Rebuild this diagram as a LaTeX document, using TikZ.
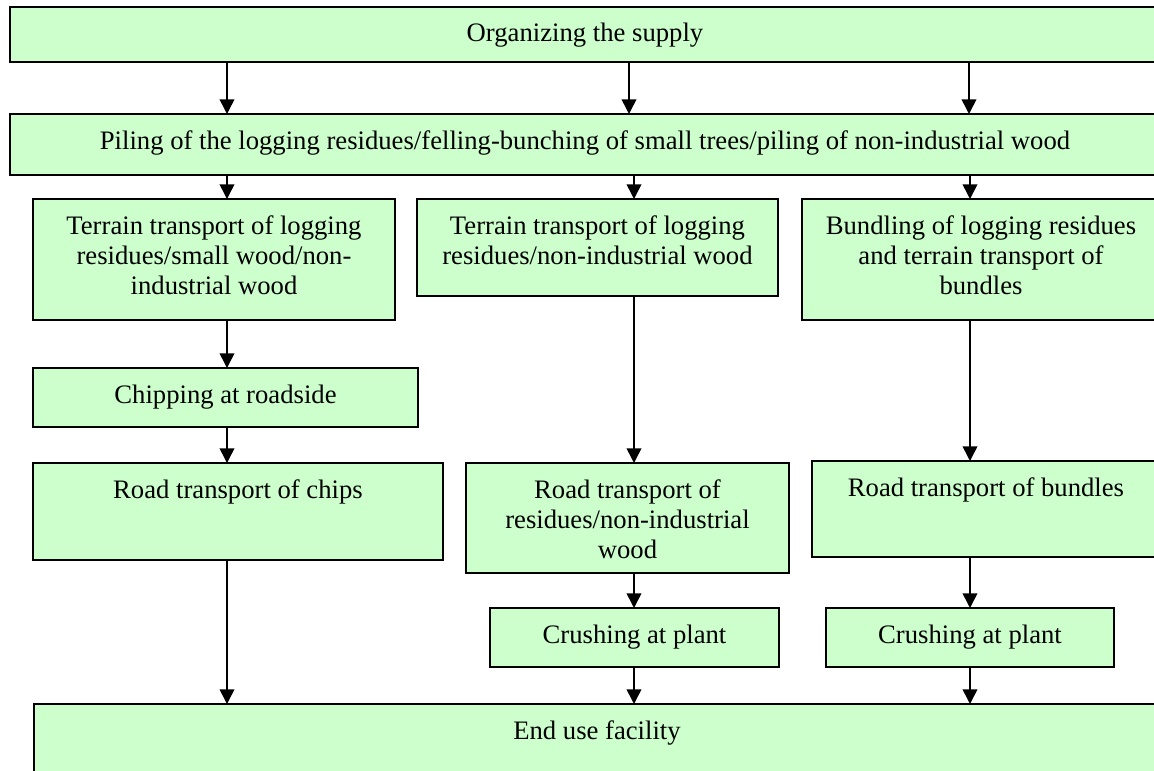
\documentclass[tikz,border=0pt]{standalone}
\usepackage{fontspec}
\setmainfont{Liberation Serif}
\usetikzlibrary{arrows.meta}
\definecolor{boxgreen}{HTML}{CCFFCC}
\newlength\pxu
\setlength\pxu{0.75pt}
\newcommand\flowtext[3]{% width, height, text
  \parbox[c][#2\pxu][t]{#1\pxu}{\centering\rule{0pt}{35\pxu}#3\par}%
}
\tikzset{%
  >={Triangle[length=11pt,width=11pt]},
  flow/.style={draw,fill=boxgreen,line width=1.2pt,inner sep=0pt,
    outer sep=0pt,anchor=north west,font=\fontsize{20}{22.5}\selectfont},%
  link/.style={->,line width=1.2pt}%
}

\begin{document}
\begin{tikzpicture}[x=0.75pt,y=-0.75pt]
\useasboundingbox (0,0) rectangle (1154,771);

% columns of the arrows
\coordinate (ca) at (227,0);
\coordinate (cb) at (634,0);
\coordinate (cc) at (970,0);
\coordinate (cbtop) at (629,0);
\coordinate (cctop) at (969,0);

\node[flow] (supply) at (10,7) {\flowtext{1150}{55}{Organizing the supply}};
\node[flow] (piling) at (10,114) {\flowtext{1150}{61}{Piling of the logging residues/felling-bunching of small trees/piling of non-industrial wood}};

\node[flow] (terrA) at (33,199) {\flowtext{362}{121}{Terrain transport of logging\\residues/small wood/non-\\industrial wood}};
\node[flow] (terrB) at (417,199) {\flowtext{361}{97}{Terrain transport of logging\\residues/non-industrial wood}};
\node[flow] (bundC) at (802,199) {\flowtext{358}{121}{Bundling of logging residues\\and terrain transport of\\bundles}};

\node[flow] (chip) at (33,368) {\flowtext{385}{59}{Chipping at roadside}};
\node[flow] (roadA) at (33,463) {\flowtext{410}{97}{Road transport of chips}};
\node[flow] (roadB) at (466,463) {\flowtext{323}{110}{Road transport of\\residues/non-industrial\\wood}};
\node[flow] (roadC) at (812,461) {\flowtext{348}{96}{Road transport of bundles}};

\node[flow] (crushB) at (490,608) {\flowtext{289}{59}{Crushing at plant}};
\node[flow] (crushC) at (826,608) {\flowtext{288}{59}{Crushing at plant}};

\node[flow] (enduse) at (34,704) {\flowtext{1126}{90}{End use facility}};

\foreach \c in {ca,cbtop,cctop}
  \draw[link] (supply.south -| \c) -- (piling.north -| \c);
\draw[link] (piling.south -| ca) -- (terrA.north -| ca);
\draw[link] (piling.south -| cb) -- (terrB.north -| cb);
\draw[link] (piling.south -| cc) -- (bundC.north -| cc);

\draw[link] (terrA.south -| ca) -- (chip.north -| ca);
\draw[link] (chip.south -| ca) -- (roadA.north -| ca);
\draw[link] (roadA.south -| ca) -- (enduse.north -| ca); %chips

\draw[link] (terrB.south -| cb) -- (roadB.north -| cb);
\draw[link] (roadB.south -| cb) -- (crushB.north -| cb);
\draw[link] (crushB.south -| cb) -- (enduse.north -| cb);

\draw[link] (bundC.south -| cc) -- (roadC.north -| cc);
\draw[link] (roadC.south -| cc) -- (crushC.north -| cc);
\draw[link] (crushC.south -| cc) -- (enduse.north -| cc); %bundles
\end{tikzpicture}
\end{document}
